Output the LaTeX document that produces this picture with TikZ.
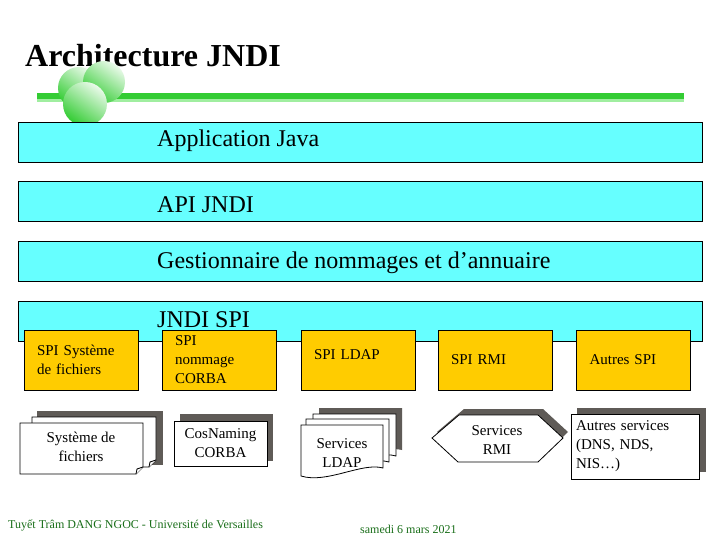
\documentclass[tikz,border=0pt]{standalone}
\usepackage{fontspec}
\setmainfont{Liberation Serif}
\usepackage{tikz}
\usetikzlibrary{positioning,backgrounds}
\pgfdeclarelayer{background}
\pgfsetlayers{background,main}
\definecolor{layercyan}{RGB}{102,255,255}
\definecolor{spiyellow}{RGB}{255,204,0}
\definecolor{shadowgray}{RGB}{95,91,87}
\definecolor{titlegreen}{RGB}{51,204,51}
\definecolor{palegreen}{RGB}{160,238,160}
\definecolor{footgreen}{RGB}{25,110,25}

\begin{document}
\begin{tikzpicture}[x=1pt, y=-1pt,
  every node/.style={font=\fontsize{15}{19}\selectfont},
  layer/.style={draw, line width=0.8pt, fill=layercyan,
    minimum width=684pt, minimum height=40pt, inner sep=0pt},
  layertext/.style={font=\fontsize{24}{28}\selectfont,
    anchor=base west, inner sep=0pt},
  spi/.style={draw, line width=0.8pt, fill=spiyellow,
    minimum width=114pt, minimum height=60pt, text width=88pt,
    align=left, inner xsep=13pt, inner ysep=0pt},
  page/.style={draw, line width=0.8pt, fill=white},
  shadowbox/.style={fill=shadowgray, inner sep=0pt},
  textonly/.style={inner sep=0pt, align=center},
  link/.style={line width=0.8pt},
  bubble/.style={top color=titlegreen!10, bottom color=titlegreen, shading angle=-35},
  footer/.style={font=\fontsize{12}{14}\selectfont, text=footgreen,
    anchor=base west, inner sep=0pt},
]
\useasboundingbox[fill=white] (0,0) rectangle (720,540);

% title and green rule
\node[font=\fontsize{32}{36}\selectfont\bfseries, anchor=base west, inner sep=0pt]
  at (25,67) (title) {Architecture JNDI};
\fill[palegreen] (37,98) rectangle (684,102);
\fill[titlegreen] (37,93) rectangle (684,99);
\shade[bubble] (79,88) circle (21pt);
\shade[bubble] (104,82) circle (21pt);
\shade[bubble] (85,104) circle (22pt);

% layers
\node[layer] at (360,142)   (app)  {};
\node[layer] at (360,201.5) (api)  {};
\node[layer] at (360,261)   (gest) {};
\node[layer] at (360,321.5) (spi)  {};
\node[layertext] at (157,147) (appT)  {Application Java};
\node[layertext] at (157,213) (apiT)  {API JNDI};
\node[layertext] at (157,268) (gestT) {Gestionnaire de nommages et d’annuaire};
\node[layertext] at (157,327) (spiT)  {JNDI SPI};

% service providers
\node[spi] at (81,360)    (spifs)    {SPI Système\\de fichiers};
\node[spi] at (219,360)   (spicorba) {SPI\\nommage\\CORBA};
\node[spi] at (358,360)   (spildap)  {\raisebox{10pt}{SPI LDAP}};
\node[spi] at (495,360)   (spirmi)   {SPI RMI};
\node[spi] at (633.5,360) (spiother) {Autres SPI};

% services
\node[shadowbox, minimum width=126pt, minimum height=54pt] at (100,438) (fsback) {};
\draw[page] (32,417) -- (156,417) -- (156,460) -- (149,467) -- (32,467) -- cycle;
\draw[page] (156,460) -- (150,462) -- (149,467);
\draw[page] (20,423) -- (143,423) -- (143,467) -- (136,474) -- (20,474) -- cycle;
\draw[page] (143,467) -- (137,469) -- (136,474);
\node[textonly] at (81,447) (fsdoc) {Système de\\fichiers};

\node[shadowbox, minimum width=93pt, minimum height=47pt] at (226.5,437.5) (corbaback) {};
\node[page, minimum width=93pt, minimum height=45pt, inner sep=0pt, align=center]
  at (220.5,443.5) (corba) {CosNaming\\CORBA};

\coordinate (ldapback) at (358,408);
\fill[shadowgray] (319,408) -- (402,408) -- (402,450)
  .. controls (381,445) and (346,462) .. (319,455) -- cycle;
\draw[page] (313,414) -- (396,414) -- (396,456)
  .. controls (375,450) and (340,468) .. (313,461) -- cycle;
\draw[page] (306,419) -- (389,419) -- (389,462)
  .. controls (368,456) and (333,474) .. (306,467) -- cycle;
\draw[page] (301,425) -- (383,425) -- (383,468)
  .. controls (362,462) and (327,484) .. (301,476) -- cycle;
\node[textonly] at (342,453) (ldap) {Services\\LDAP};

\coordinate (rmiback) at (495,409);
\fill[shadowgray] (437,432) -- (464,409) -- (543,409) -- (568,432)
  -- (543,456) -- (463,456) -- cycle;
\draw[page] (432,438) -- (459,415) -- (538,415) -- (563,438)
  -- (538,462) -- (458,462) -- cycle;
\node[textonly] at (497,440) (rmi) {Services\\RMI};

\node[shadowbox, minimum width=129pt, minimum height=64pt] at (641.5,440) (otherback) {};
\node[page, minimum width=128pt, minimum height=65pt, text width=118pt,
  align=left, inner xsep=5pt, inner ysep=0pt] at (635,446.5) (other)
  {Autres services\\(DNS, NDS,\\NIS…)};

\begin{pgfonlayer}{background}
\draw[link] (spifs.south)    -- (spifs.south |- fsback.north);
\draw[link] (spicorba.south) -- (spicorba.south |- corbaback.north);
\draw[link] (spildap.south)  -- (spildap.south |- ldapback);
\draw[link] (spirmi.south)   -- (spirmi.south |- rmiback);
\draw[link] (spiother.south) -- (spiother.south |- otherback.north);
\end{pgfonlayer}

% footer
\node[footer] at (8,528)   (author) {Tuyết Trâm DANG NGOC - Université de Versailles};
\node[footer] at (360,533) (date)   {samedi 6 mars 2021};
\end{tikzpicture}
\end{document}
